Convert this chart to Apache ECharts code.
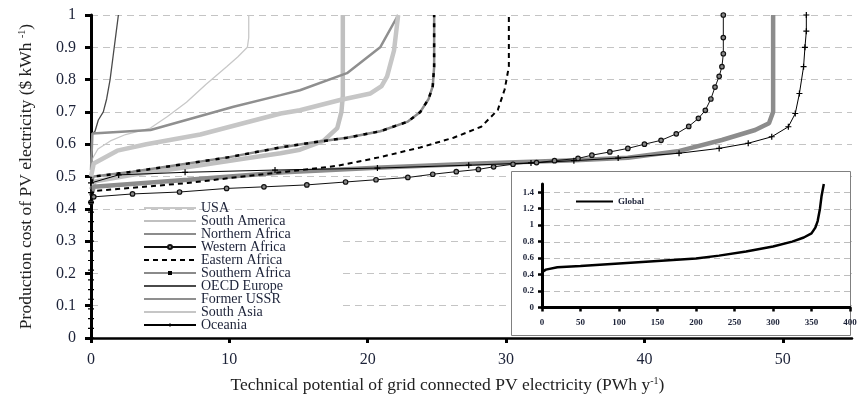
<!DOCTYPE html>
<html><head><meta charset="utf-8">
<script src="https://cdn.jsdelivr.net/npm/echarts@6/dist/echarts.min.js"></script>
<style>html,body{margin:0;padding:0;background:#fff}#c{width:860px;height:402px}</style>
</head><body><div id="c"></div>
<script>
// ---- tick labels ----
const xTicks = [0, 10, 20, 30, 40, 50];
const yTicks = [0, 0.1, 0.2, 0.3, 0.4, 0.5, 0.6, 0.7, 0.8, 0.9, 1];
const insetXTicks = [0, 50, 100, 150, 200, 250, 300, 350, 400];
const insetYTicks = [0, 0.2, 0.4, 0.6, 0.8, 1, 1.2, 1.4];

// ---- series data (x: PWh/y, y: $/kWh) ----
const usaX = [0, 0.1, 0.5, 1.4, 2.5, 4.3, 5.5, 6.9, 8.3, 9.8, 10.6, 11.3, 11.4, 11.4];
const usaY = [0.50, 0.555, 0.585, 0.61, 0.63, 0.65, 0.685, 0.73, 0.785, 0.84, 0.87, 0.90, 0.93, 1.0];

const samX = [0, 0.3, 3, 7.9, 11, 13.7, 15.1, 16.8, 17.8, 18.1, 18.2, 18.2];
const samY = [0.46, 0.485, 0.505, 0.535, 0.555, 0.572, 0.583, 0.61, 0.65, 0.70, 0.75, 1.0];

const nafX = [0, 0.2, 7, 14, 21, 28, 35, 38.8, 42.4, 45.6, 48, 49, 49.3, 49.3];
const nafY = [0.44, 0.468, 0.49, 0.513, 0.528, 0.54, 0.55, 0.558, 0.578, 0.613, 0.644, 0.665, 0.70, 1.0];

const wafX = [0, 0.2, 3, 6.4, 9.8, 12.5, 15.6, 18.4, 20.6, 22.9, 24.7, 26.4, 28, 29.1, 30.5, 32.2, 33.5, 35.2, 36.2, 37.5, 38.8, 40, 41.2, 42.3, 43.2, 43.9, 44.4, 44.8, 45.1, 45.4, 45.6, 45.7, 45.7, 45.7];
const wafY = [0.42, 0.437, 0.446, 0.452, 0.463, 0.468, 0.474, 0.483, 0.49, 0.497, 0.507, 0.515, 0.522, 0.53, 0.538, 0.543, 0.549, 0.556, 0.566, 0.576, 0.587, 0.6, 0.612, 0.632, 0.655, 0.68, 0.705, 0.74, 0.777, 0.81, 0.84, 0.88, 0.93, 1.0];

const eafX = [0, 0.2, 3, 7, 10, 14.1, 17.8, 20.9, 23.8, 26.2, 28.2, 29.4, 29.9, 30.2, 30.2];
const eafY = [0.44, 0.455, 0.465, 0.48, 0.495, 0.515, 0.533, 0.56, 0.59, 0.62, 0.654, 0.706, 0.77, 0.84, 1.0];

const safX = [0, 0.2, 3, 7, 10, 13.7, 16, 18.5, 20.9, 22.9, 23.8, 24.4, 24.7, 24.8, 24.8];
const safY = [0.48, 0.5, 0.515, 0.54, 0.56, 0.59, 0.605, 0.62, 0.64, 0.67, 0.70, 0.74, 0.78, 0.84, 1.0];

const oecX = [0, 0.05, 0.29, 0.53, 0.89, 1.13, 1.38, 1.62, 1.8, 1.98];
const oecY = [0.5, 0.63, 0.64, 0.675, 0.70, 0.74, 0.80, 0.88, 0.94, 1.0];

const fsuX = [0, 0.1, 4.3, 10.3, 13.7, 15.1, 18.5, 20.9, 22.2];
const fsuY = [0.52, 0.633, 0.644, 0.716, 0.752, 0.767, 0.82, 0.90, 1.0];

const sasX = [0, 0.2, 1.9, 4, 7.9, 11, 13.7, 15.1, 18, 20.2, 21, 21.4, 21.9, 22.2];
const sasY = [0.5, 0.54, 0.58, 0.60, 0.63, 0.665, 0.695, 0.705, 0.737, 0.757, 0.78, 0.81, 0.89, 1.0];

const oceX = [0, 0, 0, 0, 0, 0, 0, 0, 0, 0, 0, 0, 0, 0, 0, 0, 0, 2, 6.8, 13.3, 20.7, 27.3, 31.8, 34.9, 38.1, 42.5, 45.4, 47.5, 49.2, 50.4, 50.9, 51.2, 51.5, 51.6, 51.7, 51.7];
const oceY = [0, 0.03, 0.06, 0.09, 0.12, 0.15, 0.18, 0.21, 0.24, 0.27, 0.30, 0.33, 0.36, 0.39, 0.42, 0.45, 0.48, 0.505, 0.513, 0.52, 0.526, 0.535, 0.542, 0.549, 0.557, 0.572, 0.587, 0.603, 0.623, 0.654, 0.695, 0.757, 0.84, 0.9, 0.95, 1.0];

const gloX = [0, 5, 20, 50, 100, 150, 200, 230, 265, 300, 325, 340, 350, 355, 358, 361, 363, 366];
const gloY = [0.43, 0.46, 0.49, 0.505, 0.535, 0.565, 0.595, 0.63, 0.68, 0.74, 0.80, 0.85, 0.90, 0.97, 1.05, 1.2, 1.35, 1.5];

const legendNames = ['USA', 'South America', 'Northern Africa', 'Western Africa', 'Eastern Africa', 'Southern Africa', 'OECD Europe', 'Former USSR', 'South Asia', 'Oceania'];
const markerNames = ['Western Africa', 'Southern Africa', 'Oceania'];

const zip = (xs, ys) => xs.map((x, i) => [x, ys[i]]);
const FONT = "'Liberation Serif','DejaVu Serif',serif";
const TXT = '#1c2238';
const PLUS = 'path://M4,0H6V4H10V6H6V10H4V6H0V4H4Z';

function line(name, xs, ys, color, width, extra) {
  return Object.assign({
    name, type: 'line', data: zip(xs, ys), symbol: 'none', animation: false,
    xAxisIndex: 0, yAxisIndex: 0, z: 2,
    lineStyle: { color, width }, itemStyle: { color }
  }, extra || {});
}

const series = [
  line('USA', usaX, usaY, '#c8c8c8', 1.3),
  line('South America', samX, samY, '#c0c0c0', 4.5),
  line('Northern Africa', nafX, nafY, '#8c8c8c', 4.5),
  line('Western Africa', wafX, wafY, '#111', 1, {
    symbol: 'circle', symbolSize: 4.5, showSymbol: true,
    itemStyle: { color: '#888', borderColor: '#111', borderWidth: 1.2 }
  }),
  line('Eastern Africa', eafX, eafY, '#000', 2, { lineStyle: { color: '#000', width: 2, type: [5, 4] } }),
  line('Southern Africa', safX, safY, '#8a8a8a', 2.5, {
    symbol: 'rect', symbolSize: [8, 3], showSymbol: false, itemStyle: { color: '#000' }
  }),
  line('Southern Africa', safX, safY, '#000', 2.5, { lineStyle: { color: '#000', width: 2.5, type: [4, 6] } }),
  line('OECD Europe', oecX, oecY, '#4a4a4a', 1.3),
  line('Former USSR', fsuX, fsuY, '#8f8f8f', 2.5),
  line('South Asia', sasX, sasY, '#c6c6c6', 4.5),
  line('Oceania', oceX, oceY, '#000', 1, {
    symbol: PLUS, symbolSize: 6, showSymbol: true, itemStyle: { color: '#000' }
  }),
  {
    name: 'Global', type: 'line', data: zip(gloX, gloY), symbol: 'none', animation: false,
    xAxisIndex: 1, yAxisIndex: 1, z: 13,
    lineStyle: { color: '#000', width: 2.5 }, itemStyle: { color: '#000' }
  }
];

const legendData = legendNames.map(n => markerNames.includes(n) ? { name: n } : { name: n, itemStyle: { opacity: 0 } });

const chart = echarts.init(document.getElementById('c'), null, { renderer: 'canvas' });
chart.setOption({
  animation: false,
  backgroundColor: '#fff',
  textStyle: { fontFamily: FONT },
  grid: [
    { left: 91, top: 15, right: 8, bottom: 64, containLabel: false },
    { left: 542, top: 184, right: 10, bottom: 94.5, containLabel: false, z: 10 },
    { left: 511.5, top: 171.5, width: 339, height: 164, show: true, backgroundColor: '#fff', borderColor: '#808080', borderWidth: 1, z: 1 },
    { left: 103, top: 214, width: 235, height: 122, show: true, backgroundColor: '#fff', borderWidth: 0, z: 1 }
  ],
  legend: [
    {
      data: legendData, orient: 'vertical', left: 143, top: 201, padding: 0,
      itemWidth: 52, itemHeight: 5, itemGap: -1, itemTextGap: 5, selectedMode: false, z: 14,
      textStyle: { fontFamily: FONT, fontSize: 14, color: TXT, lineHeight: 13, height: 13 }
    },
    {
      data: [{ name: 'Global', itemStyle: { opacity: 0 } }], orient: 'vertical', left: 575, top: 197, padding: 0,
      itemWidth: 37, itemHeight: 8, itemTextGap: 4, selectedMode: false, z: 14,
      textStyle: { fontFamily: FONT, fontSize: 9, fontWeight: 'bold', color: TXT }
    }
  ],
  xAxis: [
    {
      type: 'value', gridIndex: 0, min: 0, max: 55, interval: 10,
      name: 'Technical potential of grid connected PV electricity (PWh y{sup|-1})',
      nameLocation: 'middle', nameGap: 38,
      nameTextStyle: {
        fontFamily: FONT, fontSize: 17.5, color: '#222', padding: [0, 48, 0, 0],
        rich: { sup: { fontSize: 10, verticalAlign: 'top', fontFamily: FONT, color: '#222' } }
      },
      axisLine: { lineStyle: { color: '#000', width: 2.5 } },
      axisTick: { show: true, length: 5, lineStyle: { color: '#000', width: 3 }, customValues: xTicks },
      axisLabel: { fontFamily: FONT, fontSize: 16, color: TXT, margin: 14, customValues: xTicks },
      splitLine: { show: false }
    },
    {
      type: 'value', gridIndex: 1, min: 0, max: 400, interval: 50, z: 10,
      axisLine: { lineStyle: { color: '#000', width: 3 } },
      axisTick: { show: true, length: 4, lineStyle: { color: '#000', width: 2.5 } },
      axisLabel: { fontFamily: FONT, fontSize: 9, fontWeight: 'bold', color: TXT, margin: 11 },
      splitLine: { show: false }
    }
  ],
  yAxis: [
    {
      type: 'value', gridIndex: 0, min: 0, max: 1, interval: 0.1,
      name: 'Production cost of PV electricity ($ kWh {sup|-1})',
      nameLocation: 'middle', nameGap: 56, nameRotate: 90,
      nameTextStyle: {
        fontFamily: FONT, fontSize: 17.5, color: '#222',
        rich: { sup: { fontSize: 10, verticalAlign: 'top', fontFamily: FONT, color: '#222' } }
      },
      axisLine: { show: true, lineStyle: { color: '#000', width: 3 } },
      axisTick: { show: true, length: 6, lineStyle: { color: '#000', width: 3 } },
      axisLabel: { fontFamily: FONT, fontSize: 16, color: TXT, margin: 15 },
      splitLine: { show: true, lineStyle: { color: '#c4c4c4', type: [7, 5], width: 1 } }
    },
    {
      type: 'value', gridIndex: 1, min: 0, max: 1.5, interval: 0.2, z: 10,
      axisLine: { show: true, lineStyle: { color: '#000', width: 3 } },
      axisTick: { show: true, length: 4, lineStyle: { color: '#000', width: 2.5 } },
      axisLabel: { fontFamily: FONT, fontSize: 9, fontWeight: 'bold', color: TXT, margin: 8, showMaxLabel: false },
      splitLine: { show: false }
    }
  ],
  series
});

// inset gridlines: positions come from the inset axes' own scale
const x0 = chart.convertToPixel({ xAxisIndex: 1 }, insetXTicks[0]);
const x1 = chart.convertToPixel({ xAxisIndex: 1 }, insetXTicks[insetXTicks.length - 1]);
const gridEls = insetYTicks.filter(v => v > 0).map(v => {
  const py = Math.round(chart.convertToPixel({ yAxisIndex: 1 }, v)) + 0.5;
  return {
    type: 'line', silent: true, z: 11,
    shape: { x1: x0 + 2, y1: py, x2: x1, y2: py },
    style: { stroke: '#bdbdbd', lineWidth: 1, lineDash: [6, 4] }
  };
});
chart.setOption({ graphic: { elements: gridEls } });
</script>
</body></html>
